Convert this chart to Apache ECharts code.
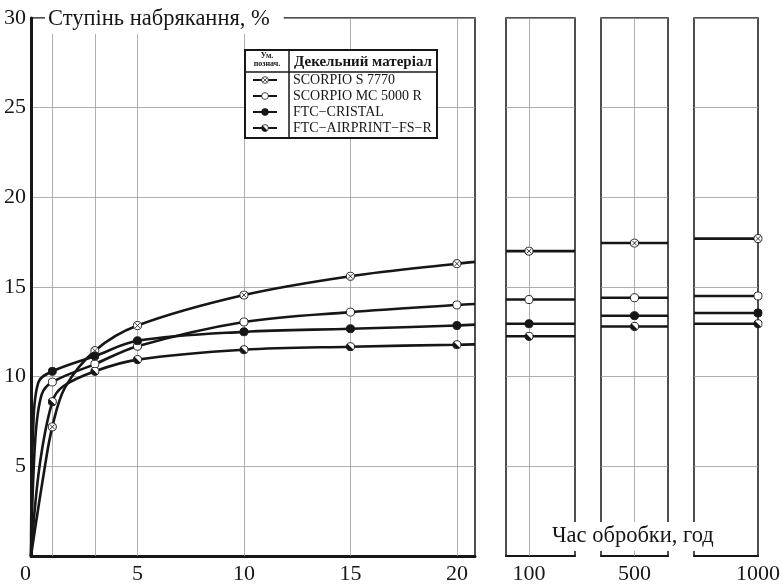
<!DOCTYPE html>
<html>
<head>
<meta charset="utf-8">
<script src="https://cdn.jsdelivr.net/npm/echarts@6/dist/echarts.min.js"></script>
<style>
  html, body { margin: 0; padding: 0; background: #fff; }
  #chart { width: 783px; height: 585px; }
</style>
</head>
<body>
<div id="chart"></div>
<script>
const materials = ['SCORPIO S 7770', 'SCORPIO MC 5000 R', 'FTC\u2212CRISTAL', 'FTC\u2212AIRPRINT\u2212FS\u2212R']

// hours where measurements are marked on the first panel
const markedHours = [1, 3, 5, 10, 15, 20]
// points [hours, %]; the extra ones only trace the bend
const s7770Curve = [[0, 0], [0.6, 4.6], [1, 7.2], [1.6, 9.4], [3, 11.45], [5, 12.85], [10, 14.55], [15, 15.6], [20, 16.3], [20.85, 16.4]]
const mc5000Curve = [[0, 0], [0.2, 6.5], [0.5, 9.0], [1, 9.7], [3, 10.7], [5, 11.7], [10, 13.05], [15, 13.6], [20, 14.0], [20.85, 14.05]]
const cristalCurve = [[0, 0], [0.1, 7.0], [0.35, 9.7], [1, 10.3], [3, 11.15], [5, 12.0], [10, 12.5], [15, 12.67], [20, 12.85], [20.85, 12.9]]
const airprintCurve = [[0, 0], [0.4, 5.0], [1, 8.6], [1.5, 9.45], [3, 10.3], [5, 10.95], [10, 11.5], [15, 11.67], [20, 11.78], [20.85, 11.8]]

// long treatment times, one narrow panel each
const longHours = [100, 500, 1000]
const s7770Long = [17.0, 17.45, 17.7]
const mc5000Long = [14.3, 14.4, 14.5]
const cristalLong = [12.95, 13.4, 13.55]
const airprintLong = [12.25, 12.8, 12.95]

const yTicks = [5, 10, 15, 20, 25, 30]

const curves = [s7770Curve, mc5000Curve, cristalCurve, airprintCurve]
const longValues = [s7770Long, mc5000Long, cristalLong, airprintLong]

const font = "'Liberation Serif', 'Times New Roman', serif"
const ink = '#161616'
const gridGray = '#9a9a9a'

const svgs = [
  '<svg xmlns="http://www.w3.org/2000/svg" width="20" height="20" viewBox="0 0 20 20"><circle cx="10" cy="10" r="8.5" fill="#fff" stroke="#161616" stroke-width="2"/><path d="M5 5L15 15M15 5L5 15" stroke="#161616" stroke-width="1.8"/></svg>',
  '<svg xmlns="http://www.w3.org/2000/svg" width="20" height="20" viewBox="0 0 20 20"><circle cx="10" cy="10" r="8.5" fill="#fff" stroke="#161616" stroke-width="2"/></svg>',
  '<svg xmlns="http://www.w3.org/2000/svg" width="20" height="20" viewBox="0 0 20 20"><circle cx="10" cy="10" r="8.5" fill="#161616" stroke="#161616" stroke-width="2"/></svg>',
  '<svg xmlns="http://www.w3.org/2000/svg" width="20" height="20" viewBox="0 0 20 20"><circle cx="10" cy="10" r="8.5" fill="#fff" stroke="#161616" stroke-width="2"/><path d="M3.99 3.99A8.5 8.5 0 0 0 16.01 16.01Z" fill="#161616"/></svg>'
]
const symbols = svgs.map(s => 'image://data:image/svg+xml;charset=utf-8,' + encodeURIComponent(s))

// panel extents: main panel + three narrow ones
const panels = [
  { left: 31, width: 444, min: 0, max: 20.85, interval: 5, labels: [0, 5, 10, 15, 20], vlines: markedHours },
  { left: 506, width: 69, min: 50, max: 200, interval: 50, labels: [100], vlines: [100] },
  { left: 601, width: 67, min: 400, max: 600, interval: 100, labels: [500], vlines: [500] },
  { left: 694, width: 66, min: 800, max: 1000, interval: 200, labels: [1000], vlines: [] }
]

const grids = panels.map(p => ({
  left: p.left, top: 18, width: p.width, height: 540,
  show: true, borderColor: ink, borderWidth: 1.5
}))

const xAxes = panels.map((p, i) => ({
  type: 'value', gridIndex: i, min: p.min, max: p.max, interval: p.interval,
  axisLine: { show: true, lineStyle: { color: ink, width: i === 0 ? 3 : 2 } },
  axisTick: { show: false },
  splitLine: { show: false },
  axisLabel: {
    fontFamily: font, fontSize: 22, color: ink, margin: 7,
    alignMinLabel: i === 0 ? 'right' : undefined,
    formatter: v => (p.labels.indexOf(v) >= 0 ? String(v) : '')
  }
}))

const yAxes = panels.map((p, i) => ({
  type: 'value', gridIndex: i, min: 0, max: 30, interval: 5,
  axisLine: { show: i === 0, lineStyle: { color: ink, width: 3 } },
  axisTick: { show: false },
  splitLine: { show: true, lineStyle: { color: gridGray, width: 0.8 } },
  axisLabel: {
    show: i === 0, fontFamily: font, fontSize: 22, color: ink, margin: 5,
    formatter: v => (yTicks.indexOf(v) >= 0 ? String(v) : '')
  }
}))

function gridLines(p) {
  return {
    silent: true, symbol: 'none', z: 1, animation: false,
    label: { show: false },
    lineStyle: { color: gridGray, width: 0.8, type: 'solid' },
    data: p.vlines.map(v => ({ xAxis: v }))
  }
}

const series = []
materials.forEach((name, i) => {
  series.push({
    name, type: 'line', xAxisIndex: 0, yAxisIndex: 0,
    data: curves[i].map(pt => (markedHours.indexOf(pt[0]) >= 0 ? pt : { value: pt, symbol: 'none' })),
    smooth: 0.35,
    symbol: symbols[i], symbolSize: 9.5,
    lineStyle: { color: ink, width: 2.6 },
    itemStyle: { color: ink },
    animation: false, z: 3,
    markLine: i === 0 ? gridLines(panels[0]) : undefined
  })
  longHours.forEach((h, k) => {
    const p = panels[k + 1]
    const v = longValues[i][k]
    series.push({
      name, type: 'line', xAxisIndex: k + 1, yAxisIndex: k + 1,
      data: [{ value: [p.min, v], symbol: 'none' }, [h, v], { value: [p.max, v], symbol: 'none' }],
      symbol: symbols[i], symbolSize: 9.5, clip: false,
      lineStyle: { color: ink, width: 2.6 },
      itemStyle: { color: ink },
      animation: false, z: 3,
      markLine: i === 0 && p.vlines.length ? gridLines(p) : undefined
    })
  })
})

const chart = echarts.init(document.getElementById('chart'), null, { renderer: 'canvas' })
chart.setOption({
  backgroundColor: '#fff',
  animation: false,
  title: [
    {
      text: 'Ступінь набрякання, %', left: 45, top: 5,
      padding: [3, 14, 3, 3], backgroundColor: '#fff',
      textStyle: { fontFamily: font, fontSize: 22.5, fontWeight: 'normal', color: ink }
    },
    {
      text: 'Час обробки, год', left: 547, top: 522,
      padding: [3, 5, 3, 5], backgroundColor: '#fff',
      textStyle: { fontFamily: font, fontSize: 22.5, fontWeight: 'normal', color: ink }
    }
  ],
  legend: {
    data: materials, orient: 'vertical', left: 252, top: 72, padding: 0,
    itemGap: 0, itemWidth: 24, itemHeight: 10, selectedMode: false, z: 8,
    textStyle: { fontFamily: font, fontSize: 14, color: ink, lineHeight: 16, padding: [0, 0, 0, 11] }
  },
  graphic: [
    { type: 'rect', z: 6, shape: { x: 245, y: 50, width: 192, height: 88 }, style: { fill: '#fff', stroke: ink, lineWidth: 2 } },
    { type: 'line', z: 7, shape: { x1: 245, y1: 72, x2: 437, y2: 72 }, style: { stroke: ink, lineWidth: 1.5 } },
    { type: 'line', z: 7, shape: { x1: 289, y1: 50, x2: 289, y2: 138 }, style: { stroke: ink, lineWidth: 1.5 } },
    { type: 'text', z: 7, x: 267, y: 56, style: { text: 'Ум.', fontFamily: font, fontSize: 8, fontWeight: 'bold', fill: ink, align: 'center', verticalAlign: 'middle' } },
    { type: 'text', z: 7, x: 267, y: 64, style: { text: 'познач.', fontFamily: font, fontSize: 8, fontWeight: 'bold', fill: ink, align: 'center', verticalAlign: 'middle' } },
    { type: 'text', z: 7, x: 294, y: 62, style: { text: 'Декельний матеріал', fontFamily: font, fontSize: 15, fontWeight: 'bold', fill: ink, verticalAlign: 'middle' } }
  ],
  grid: grids,
  xAxis: xAxes,
  yAxis: yAxes,
  series
})
</script>
</body>
</html>
